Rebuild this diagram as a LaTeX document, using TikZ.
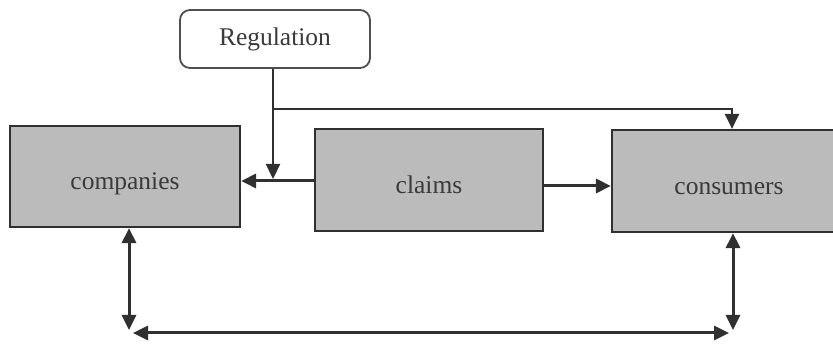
\documentclass[tikz,border=0pt]{standalone}
\usepackage{fontspec}
\setmainfont{Liberation Serif}
\usetikzlibrary{arrows.meta,calc}
\definecolor{boxgray}{HTML}{BBBBBB}
\definecolor{ink}{HTML}{303030}
\definecolor{textgray}{HTML}{3A3A3A}
\begin{document}
\begin{tikzpicture}[x=1pt,y=-1pt,
  actor/.style={draw=ink, line width=2.2pt, fill=boxgray, text=textgray,
    font=\fontsize{25.5}{30}\selectfont, inner sep=0pt,
    text height=27pt, text depth=0pt},
  rulebox/.style={draw=ink!85, line width=1.8pt, rounded corners=10pt,
    fill=white, text=textgray, font=\fontsize{25.5}{30}\selectfont, inner sep=0pt},
  tip/.tip={Triangle[length=15pt,width=14pt]},
  flow/.style={draw=ink, line width=3pt, -tip},
  control/.style={draw=ink, line width=2.2pt, -tip},
  both/.style={draw=ink, line width=3pt, tip-tip},
]
\clip (0,0) rectangle (833,344);
\fill[white] (0,0) rectangle (833,344);

% boxes
\node[rulebox, minimum width=190pt, minimum height=58pt] (reg) at (275,39) {Regulation};
\node[actor, minimum width=230pt, minimum height=101pt] (comp) at (125,176.5) {companies};
\node[actor, minimum width=228pt, minimum height=102pt] (claims) at (429,180) {claims};
\node[actor, minimum width=234pt, minimum height=102pt] (cons) at (729,181) {consumers};

% helper points
\coordinate (tee) at (273,181);
\coordinate (teeend) at (273,179);
\coordinate (fork) at (273,109);
\coordinate (bl1) at (129,330);
\coordinate (br1) at (733,330);
\coordinate (bl2) at (133,333);
\coordinate (br2) at (729,333);

% claims feed both sides
\draw[flow] (claims.west |- tee) -- (comp.east |- tee);
\draw[flow] ([yshift=-6pt]claims.east) -- ([yshift=-6pt]claims.east -| cons.west);

% regulation acts on companies and consumers
\draw[control] (reg.south -| tee) -- (teeend);
\draw[control] (fork) -| ([xshift=3pt]cons.north);

% link between companies and consumers
\draw[both] (comp.south -| bl1) -- (bl1);
\draw[both] (cons.south -| br1) -- (br1);
\draw[both] (bl2) -- (br2);
\end{tikzpicture}
\end{document}
